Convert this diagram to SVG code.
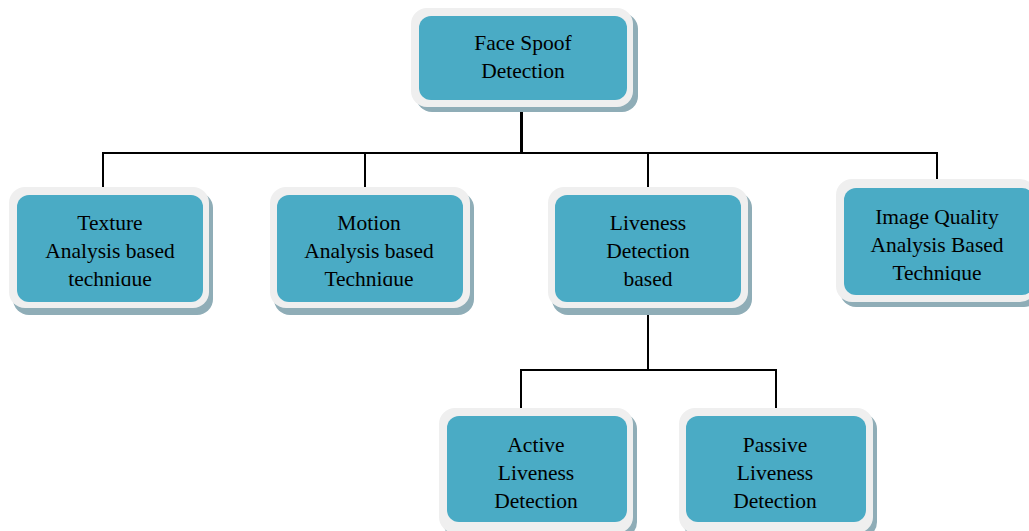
<svg xmlns="http://www.w3.org/2000/svg" width="1029" height="531" viewBox="0 0 1029 531">
<style>
.sh{fill:#8fadb7}
.ring{fill:#efefef}
.box{fill:#4aabc5}
.t{font-family:"Liberation Serif","Times New Roman",serif;font-size:21.5px;fill:#000;text-anchor:middle}
.c{stroke:#000;stroke-width:2;fill:none}
</style>
<defs>
<clipPath id="cr1"><rect x="0" y="0" width="1029" height="286"/></clipPath>
<clipPath id="cr2"><rect x="0" y="0" width="1029" height="281"/></clipPath>
</defs>
<rect width="1029" height="531" fill="#fff"/>
<g id="connectors">
<line class="c" x1="521.5" y1="106" x2="521.5" y2="153" style="stroke-width:3"/>
<line class="c" x1="102" y1="153" x2="938" y2="153"/>
<line class="c" x1="103" y1="153" x2="103" y2="188"/>
<line class="c" x1="365" y1="153" x2="365" y2="188"/>
<line class="c" x1="648" y1="153" x2="648" y2="188"/>
<line class="c" x1="937" y1="153" x2="937" y2="180"/>
<line class="c" x1="648" y1="307" x2="648" y2="370"/>
<line class="c" x1="520" y1="370" x2="777" y2="370"/>
<line class="c" x1="521" y1="370" x2="521" y2="409"/>
<line class="c" x1="776" y1="370" x2="776" y2="409"/>
</g>
<g id="n-face">
<rect class="sh" x="416" y="13" width="222" height="99" rx="16"/>
<rect class="ring" x="411" y="8" width="222" height="99" rx="16"/>
<rect class="box" x="419" y="16" width="208" height="84" rx="12"/>
<text class="t" x="523" y="50">Face Spoof</text>
<text class="t" x="523" y="78">Detection</text>
</g>
<g id="n-texture">
<rect class="sh" x="13" y="192" width="200" height="123" rx="16"/>
<rect class="ring" x="9" y="187" width="200" height="121" rx="16"/>
<rect class="box" x="17" y="195" width="186" height="107" rx="12"/>
<g clip-path="url(#cr1)">
<text class="t" x="110" y="230">Texture</text>
<text class="t" x="110" y="258">Analysis based</text>
<text class="t" x="110" y="286">technique</text>
</g>
</g>
<g id="n-motion">
<rect class="sh" x="274" y="192" width="200" height="123" rx="16"/>
<rect class="ring" x="270" y="187" width="200" height="121" rx="16"/>
<rect class="box" x="277" y="195" width="186" height="107" rx="12"/>
<g clip-path="url(#cr1)">
<text class="t" x="369" y="230">Motion</text>
<text class="t" x="369" y="258">Analysis based</text>
<text class="t" x="369" y="286">Technique</text>
</g>
</g>
<g id="n-liveness">
<rect class="sh" x="552" y="192" width="200" height="123" rx="16"/>
<rect class="ring" x="548" y="187" width="200" height="121" rx="16"/>
<rect class="box" x="555" y="195" width="186" height="107" rx="12"/>
<g clip-path="url(#cr1)">
<text class="t" x="648" y="230">Liveness</text>
<text class="t" x="648" y="258">Detection</text>
<text class="t" x="648" y="286">based</text>
</g>
</g>
<g id="n-quality">
<rect class="sh" x="840" y="184" width="200" height="123" rx="16"/>
<rect class="ring" x="836" y="179" width="200" height="123" rx="16"/>
<rect class="box" x="844" y="188" width="190" height="107" rx="12"/>
<g clip-path="url(#cr2)">
<text class="t" x="937" y="224">Image Quality</text>
<text class="t" x="937" y="252">Analysis Based</text>
<text class="t" x="937" y="280">Technique</text>
</g>
</g>
<g id="n-active">
<rect class="sh" x="443" y="413" width="194" height="125" rx="16"/>
<rect class="ring" x="439" y="408" width="194" height="125" rx="16"/>
<rect class="box" x="447" y="416" width="180" height="106" rx="12"/>
<text class="t" x="536" y="452">Active</text>
<text class="t" x="536" y="480">Liveness</text>
<text class="t" x="536" y="508">Detection</text>
</g>
<g id="n-passive">
<rect class="sh" x="683" y="413" width="194" height="125" rx="16"/>
<rect class="ring" x="679" y="408" width="194" height="125" rx="16"/>
<rect class="box" x="686" y="416" width="180" height="106" rx="12"/>
<text class="t" x="775" y="452">Passive</text>
<text class="t" x="775" y="480">Liveness</text>
<text class="t" x="775" y="508">Detection</text>
</g>
</svg>
